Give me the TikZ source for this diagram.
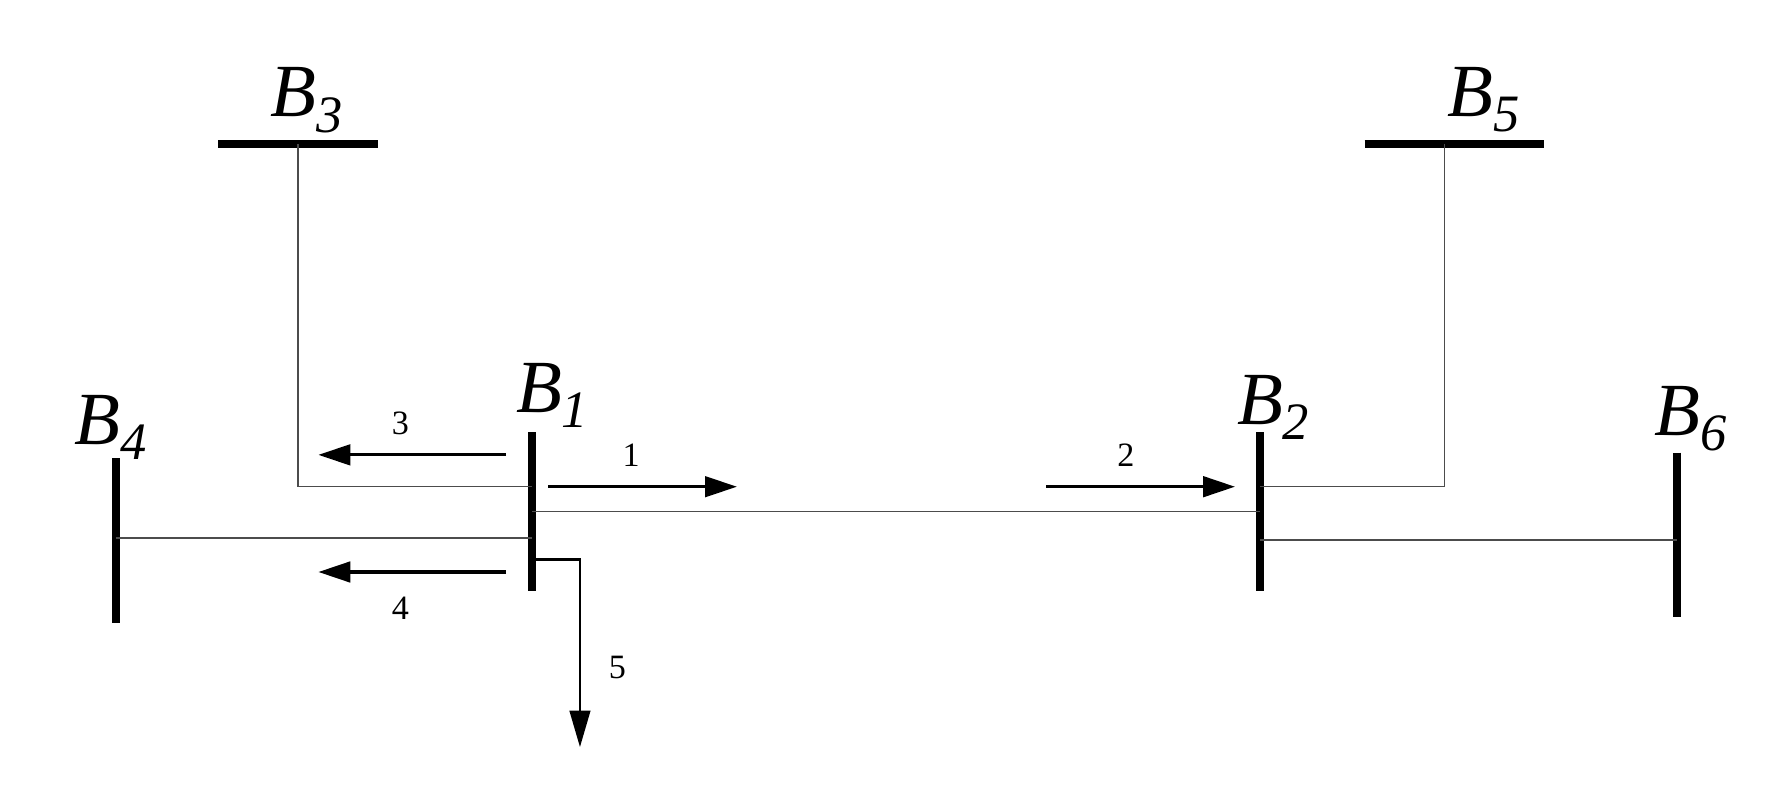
\documentclass[tikz,border=0pt]{standalone}
\usepackage{fontspec}
\setmainfont{Liberation Serif}
\usetikzlibrary{arrows.meta}
\begin{document}
\begin{tikzpicture}[x=0.5pt,y=-0.5pt,
  bus/.style={line width=3.5pt},
  wire/.style={line width=0.6pt,black!70},
  flow/.style={line width=1.4pt,-{Triangle[length=14pt,width=9pt]}},
  blab/.style={font=\fontsize{33}{36}\selectfont\itshape,inner sep=0pt},
  nlab/.style={font=\fontsize{15}{17}\selectfont,inner sep=0pt}]
\useasboundingbox (0,0) rectangle (1560,695);
% buses
\draw[bus] (192,127) -- (332,127);
\draw[bus] (1200,127) -- (1358,127);
\draw[bus] (468,380) -- (468,520);
\draw[bus] (1108,380) -- (1108,520);
\draw[bus] (102,403) -- (102,548);
\draw[bus] (1475,398) -- (1475,543);
\node[blab] (lb3) at (270,88) {B\textsubscript{3}};
\node[blab] (lb5) at (1305,88) {B\textsubscript{5}};
\node[blab] (lb1) at (486,348) {B\textsubscript{1}};
\node[blab] (lb2) at (1120,358) {B\textsubscript{2}};
\node[blab] (lb4) at (98,376) {B\textsubscript{4}};
\node[blab] (lb6) at (1487,368) {B\textsubscript{6}};
% lines
\draw[wire] (262,127) -- (262,428) -- (468,428);
\draw[wire] (468,450) -- (1108,450);
\draw[wire] (102,473) -- (468,473);
\draw[wire] (1108,428) -- (1270,428) -- (1270,127);
\draw[wire] (1108,475) -- (1475,475);
\draw[line width=1.2pt] (468,492) -- (510,492) -- (510,630);
\draw[line width=1.2pt,-{Triangle[length=16pt,width=9pt]}] (510,620) -- (510,657);
% flows
\draw[flow] (445,400) -- (280,400);
\draw[flow] (482,428) -- (648,428);
\draw[flow] (920,428) -- (1086,428);
\draw[flow] (445,503) -- (280,503);
\node[nlab] (n3) at (352,372) {3};
\node[nlab] (n1) at (555,400) {1};
\node[nlab] (n2) at (990,400) {2};
\node[nlab] (n4) at (352,535) {4};
\node[nlab] (n5) at (543,587) {5};
\end{tikzpicture}
\end{document}
